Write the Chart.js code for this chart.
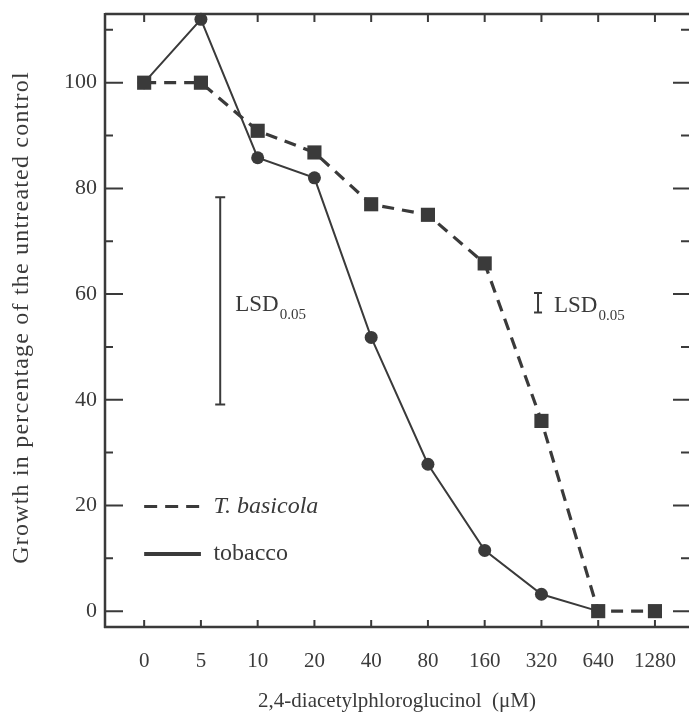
<!DOCTYPE html>
<html>
<head>
<meta charset="utf-8">
<script src="https://cdn.jsdelivr.net/npm/chart.js@4/dist/chart.umd.min.js"></script>
<style>
  html, body { margin: 0; padding: 0; background: #ffffff; }
  #wrap { width: 689px; height: 722px; position: relative; }
</style>
</head>
<body>
<div id="wrap"><canvas id="c" width="689" height="722"></canvas></div>
<script>
// ---- data ----
const concentrations = ['0', '5', '10', '20', '40', '80', '160', '320', '640', '1280'];
const basicolaValues = [100, 100, 90.9, 86.8, 77, 75, 65.8, 36, 0, 0];
const tobaccoValues  = [100, 112, 85.8, 82, 51.8, 27.8, 11.5, 3.2, 0, null];
const yMajorTicks = [0, 20, 40, 60, 80, 100];
const yMinorTicks = [10, 30, 50, 70, 90, 110];
const lsdLeft  = { x: 1.34, low: 39.1, high: 78.3 };
const lsdRight = { x: 6.94, low: 56.5, high: 60.2 };

const ink = '#3a3a3a';
const serif = '"Liberation Serif", "DejaVu Serif", serif';

const framePlugin = {
  id: 'frame',
  afterDraw(chart) {
    const ctx = chart.ctx;
    const xs = chart.scales.x, ys = chart.scales.y;
    const a = chart.chartArea;
    ctx.save();
    ctx.strokeStyle = ink;
    ctx.lineCap = 'butt';
    // frame lines
    ctx.lineWidth = 2.5;
    ctx.beginPath();
    ctx.moveTo(a.left, a.top); ctx.lineTo(a.right, a.top);
    ctx.moveTo(a.left, a.top - 1); ctx.lineTo(a.left, a.bottom + 1);
    ctx.moveTo(a.left - 1, a.bottom); ctx.lineTo(a.right, a.bottom);
    ctx.stroke();
    // y ticks left & right
    ctx.lineWidth = 2;
    ctx.beginPath();
    yMajorTicks.forEach(v => {
      const y = ys.getPixelForValue(v);
      ctx.moveTo(a.left, y); ctx.lineTo(a.left + 18, y);
      ctx.moveTo(a.right, y); ctx.lineTo(a.right - 16, y);
    });
    yMinorTicks.forEach(v => {
      const y = ys.getPixelForValue(v);
      ctx.moveTo(a.left, y); ctx.lineTo(a.left + 8, y);
      ctx.moveTo(a.right, y); ctx.lineTo(a.right - 8, y);
    });
    // x ticks top & bottom
    concentrations.forEach((c, i) => {
      const x = xs.getPixelForValue(i);
      ctx.moveTo(x, a.bottom); ctx.lineTo(x, a.bottom - 7);
      ctx.moveTo(x, a.top); ctx.lineTo(x, a.top + 8);
    });
    ctx.stroke();

    // LSD bars
    function lsd(b, capW) {
      const x = xs.getPixelForValue(b.x);
      const y1 = ys.getPixelForValue(b.high), y2 = ys.getPixelForValue(b.low);
      ctx.lineWidth = 2;
      ctx.beginPath();
      ctx.moveTo(x, y1); ctx.lineTo(x, y2);
      ctx.moveTo(x - capW, y1); ctx.lineTo(x + capW, y1);
      ctx.moveTo(x - capW, y2); ctx.lineTo(x + capW, y2);
      ctx.stroke();
    }
    lsd(lsdLeft, 5);
    lsd(lsdRight, 4);

    function lsdLabel(x, y) {
      ctx.fillStyle = ink;
      ctx.textBaseline = 'alphabetic';
      ctx.textAlign = 'left';
      ctx.font = '23px ' + serif;
      ctx.fillText('LSD', x, y);
      const w = ctx.measureText('LSD').width;
      ctx.font = '15px ' + serif;
      ctx.fillText('0.05', x + w + 1, y + 8);
    }
    lsdLabel(xs.getPixelForValue(lsdLeft.x) + 15, ys.getPixelForValue(56.8));
    lsdLabel(xs.getPixelForValue(lsdRight.x) + 16, ys.getPixelForValue(56.6));

    // legend
    const lx1 = xs.getPixelForValue(0), lx2 = xs.getPixelForValue(1);
    const ly1 = ys.getPixelForValue(19.8), ly2 = ys.getPixelForValue(10.8);
    ctx.lineWidth = 3.2;
    ctx.setLineDash([13, 8]);
    ctx.beginPath(); ctx.moveTo(lx1, ly1); ctx.lineTo(lx2, ly1); ctx.stroke();
    ctx.setLineDash([]);
    ctx.lineWidth = 4;
    ctx.beginPath(); ctx.moveTo(lx1, ly2); ctx.lineTo(lx2, ly2); ctx.stroke();
    ctx.fillStyle = ink;
    ctx.textBaseline = 'middle';
    ctx.textAlign = 'left';
    ctx.font = 'italic 24px ' + serif;
    ctx.fillText('T. basicola', xs.getPixelForValue(1.22), ly1);
    ctx.font = '24px ' + serif;
    ctx.fillText('tobacco', xs.getPixelForValue(1.22), ly2);

    // y axis title (drawn with letter spacing)
    ctx.save();
    ctx.translate(22, (a.top + a.bottom) / 2 - 3);
    ctx.rotate(-Math.PI / 2);
    ctx.font = '24px ' + serif;
    try { ctx.letterSpacing = '1.2px'; } catch (e) {}
    ctx.textAlign = 'center';
    ctx.textBaseline = 'middle';
    ctx.fillText('Growth in percentage of the untreated control', 0, 0);
    ctx.restore();
    ctx.restore();
  }
};

new Chart(document.getElementById('c'), {
  type: 'line',
  data: {
    datasets: [
      {
        label: 'T. basicola',
        data: basicolaValues.map((v, i) => ({ x: i, y: v })),
        borderColor: ink,
        backgroundColor: ink,
        borderWidth: 3.2,
        borderDash: [12, 8],
        pointStyle: 'rect',
        pointRadius: 10,
        pointBorderWidth: 0,
        tension: 0
      },
      {
        label: 'tobacco',
        data: tobaccoValues.map((v, i) => ({ x: i, y: v })),
        borderColor: ink,
        backgroundColor: ink,
        borderWidth: 2,
        pointStyle: 'circle',
        pointRadius: 6.5,
        pointBorderWidth: 0,
        spanGaps: false,
        tension: 0
      }
    ]
  },
  options: {
    responsive: false,
    animation: false,
    clip: false,
    layout: { autoPadding: false, padding: { top: 14, right: 0, left: 0, bottom: 0 } },
    plugins: { legend: { display: false }, tooltip: { enabled: false } },
    scales: {
      x: {
        type: 'linear',
        min: -0.69,
        max: 9.6,
        afterBuildTicks: (s) => { s.ticks = concentrations.map((c, i) => ({ value: i })); },
        afterFit: (s) => { s.height = 95; s.paddingLeft = 0; s.paddingRight = 0; },
        grid: { display: false, drawTicks: false },
        border: { display: false },
        ticks: {
          padding: 22,
          color: ink,
          font: { family: serif, size: 21 },
          maxRotation: 0,
          autoSkip: false,
          callback: (v) => concentrations[v]
        },
        title: {
          display: true,
          text: '2,4-diacetylphloroglucinol  (\u03bcM)',
          color: ink,
          font: { family: serif, size: 21 },
          padding: { top: 0, bottom: 8 }
        }
      },
      y: {
        type: 'linear',
        min: -3,
        max: 113,
        afterBuildTicks: (s) => { s.ticks = yMajorTicks.map(v => ({ value: v })); },
        afterFit: (s) => { s.width = 105; s.paddingTop = 0; s.paddingBottom = 0; },
        grid: { display: false, drawTicks: false },
        border: { display: false },
        ticks: {
          padding: 8,
          color: ink,
          font: { family: serif, size: 22 }
        },
        title: { display: false }
      }
    }
  },
  plugins: [framePlugin]
});
</script>
</body>
</html>
